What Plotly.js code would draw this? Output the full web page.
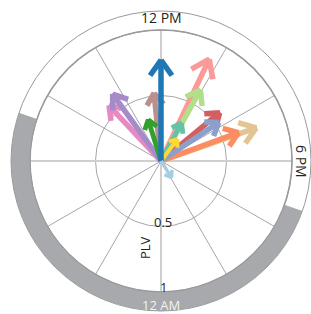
<!DOCTYPE html>
<html>
<head>
<meta charset="utf-8">
<script src="https://cdn.plot.ly/plotly-3.0.1.min.js"></script>
<style>html,body{margin:0;padding:0;background:#fff;}#chart{width:311px;height:314px;}</style>
</head>
<body>
<div id="chart"></div>
<script>
// ---- data ----
var seriesNames = ['tan','orange','red','periwinkle','salmon','lightgreen','teal','yellow','pink','purple','rosybrown','green','blue','lightblue'];
var peakHour   = [16.72, 16.66, 15.37, 15.75, 13.69, 13.93, 13.89, 14.46, 9.12, 9.61, 11.61, 10.85, 12.0, 21.83];
var plvValue   = [0.77, 0.63, 0.58, 0.53, 0.86, 0.62, 0.33, 0.21, 0.58, 0.63, 0.52, 0.33, 0.77, 0.15];
var colors     = ['#e5c494','#fc8d62','#d26060','#8da0cb','#fb9a99','#b2df8a','#66c2a5','#ffd92f','#e78ac3','#a58bc9','#bc8f8f','#33a02c','#1f78b4','#a6cee3'];
var darkStartHour = 19.3;   // lights off
var darkEndHour = 7.25;     // lights on
var gridHours = [0,2,4,6,8,10,12,14,16,18,20,22];
var radialTickVals = [0.5, 1];
var radialTickText = ['0.5', '1'];
var clockLabels = ['12 PM', '6 PM', '12 AM'];
var radialTitle = 'PLV';

// ---- geometry ----
var W = 311, H = 314, cx = 161, cy = 161, rIn = 131, rOut = 150;
var h2d = function(h){ return h * 15; };
var font = 'Open Sans, Noto Sans, sans-serif';

var traces = [];
// light cross lines
traces.push({type:'scatterpolar', subplot:'polar', r:[1,0,1], theta:[h2d(6),0,h2d(18)], mode:'lines',
  line:{color:'#cfcfcf', width:2}, hoverinfo:'skip', showlegend:false});
traces.push({type:'scatterpolar', subplot:'polar', r:[1,0,1], theta:[h2d(12),0,h2d(0)], mode:'lines',
  line:{color:'#cfcfcf', width:2}, hoverinfo:'skip', showlegend:false});

// arrows: shaft + chevron head (barbs derived from each vector, in radial units)
function barb(p, deg, len, spread) {
  var a = deg * Math.PI / 180;
  var tx = p * Math.sin(a), ty = p * Math.cos(a);
  var b = a + Math.PI + spread;
  var bx = tx + len * Math.sin(b), by = ty + len * Math.cos(b);
  return {r: Math.sqrt(bx*bx + by*by), t: Math.atan2(bx, by) * 180 / Math.PI};
}
for (var i = 0; i < peakHour.length; i++) {
  var p = plvValue[i], d = h2d(peakHour[i]);
  var len = (5 + 18 * p) / rIn;
  var s = 0.62;
  var bl = barb(p, d, len, s), br = barb(p, d, len, -s);
  traces.push({
    type:'scatterpolar', subplot:'polar', name: seriesNames[i],
    r:[0, p, bl.r, null, p, br.r], theta:[d, d, bl.t, null, d, br.t],
    mode:'lines', connectgaps:false,
    line:{color:colors[i], width: Math.min(5.5, 2.2 + 8*p)},
    hoverinfo:'skip', showlegend:false
  });
}

// dark phase ring
var darkWidthH = (darkEndHour + 24 - darkStartHour) % 24;
var darkCenterH = darkStartHour + darkWidthH / 2;
traces.push({type:'barpolar', subplot:'polar2', r:[1], base:[0], theta:[h2d(darkCenterH)], width:[h2d(darkWidthH)],
  marker:{color:'#a7a9ac', line:{width:0}}, hoverinfo:'skip', showlegend:false});

var ann = [
  {text:clockLabels[0], x:cx/W, y:(H-18)/H},
  {text:clockLabels[1], x:302/W, y:(H-cy)/H, textangle:90},
  {text:clockLabels[2], x:cx/W, y:(H-305)/H, color:'#f2f2f2', size:13},
  {text:radialTitle, x:145/W, y:(H-248)/H, textangle:-90, size:13}
].map(function(a){
  return {text:a.text, x:a.x, y:a.y, xref:'paper', yref:'paper', xanchor:'center', yanchor:'middle',
    showarrow:false, textangle:a.textangle || 0,
    font:{family:font, size:a.size || 14, color:a.color || '#231f20'}};
});
// radial tick labels, placed just inside each grid circle on the downward (12 AM) radius
radialTickVals.forEach(function(v, k){
  ann.push({text:radialTickText[k], x:(cx+2)/W, y:(H-(cy + v*rIn - 5))/H, xref:'paper', yref:'paper',
    xanchor:'center', yanchor:'middle', showarrow:false, font:{family:font, size:13, color:'#231f20'}});
});

var layout = {
  width: W, height: H,
  margin:{l:0, r:0, t:0, b:0},
  paper_bgcolor:'#fff',
  showlegend:false,
  polar:{
    domain:{x:[(cx-rIn)/W, (cx+rIn)/W], y:[(H-cy-rIn)/H, (H-cy+rIn)/H]},
    bgcolor:'rgba(0,0,0,0)',
    angularaxis:{rotation:270, direction:'clockwise', tickmode:'array', tickvals:gridHours.map(h2d),
      showticklabels:false, ticks:'', gridcolor:'#8f8f8f', gridwidth:0.8,
      showline:true, linecolor:'#9a9a9a', linewidth:1.5},
    radialaxis:{range:[0,1], tickmode:'array', tickvals:radialTickVals, showticklabels:false, ticks:'',
      showline:false, gridcolor:'#8f8f8f', gridwidth:0.8, angle:-90}
  },
  polar2:{
    domain:{x:[(cx-rOut)/W, Math.min(1,(cx+rOut)/W)], y:[(H-cy-rOut)/H, (H-cy+rOut)/H]},
    hole: rIn/rOut,
    bgcolor:'rgba(0,0,0,0)',
    angularaxis:{rotation:270, direction:'clockwise', showgrid:false, showticklabels:false, ticks:'',
      showline:true, linecolor:'#9a9a9a', linewidth:1},
    radialaxis:{visible:false, range:[0,1]}
  },
  annotations: ann
};

Plotly.newPlot('chart', traces, layout, {displayModeBar:false, staticPlot:true});
</script>
</body>
</html>
